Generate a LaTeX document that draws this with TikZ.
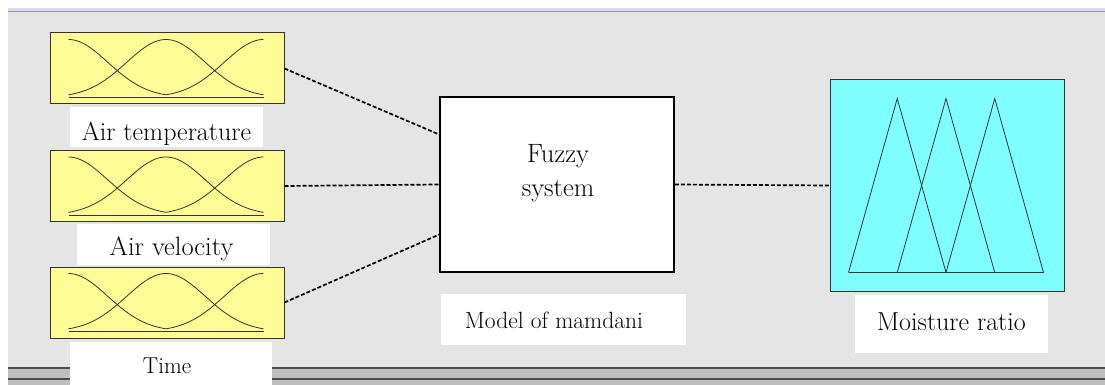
\documentclass[tikz,border=0pt]{standalone}
\definecolor{bggray}{RGB}{229,229,229}
\definecolor{bargray}{RGB}{190,190,190}
\definecolor{mfyellow}{RGB}{255,252,150}
\definecolor{mfcyan}{RGB}{128,255,255}
\tikzset{
  mfbox/.style={draw=black!80,fill=mfyellow,line width=1pt,inner sep=0pt,minimum width=234pt,minimum height=71pt},
  outbox/.style={draw=black!80,fill=mfcyan,line width=1pt,inner sep=0pt,minimum width=234pt,minimum height=211pt},
  fisbox/.style={draw=black,fill=white,line width=1.5pt,inner sep=0pt,minimum width=234pt,minimum height=175pt},
  tag/.style={fill=white,inner sep=0pt,text depth=0pt},
  link/.style={draw=black,line width=1.7pt,dash pattern=on 4pt off 2pt},
  mf/.style={draw=black!80,line width=0.8pt}
}

\begin{document}
\begin{tikzpicture}[x=1pt,y=-1pt]
  \useasboundingbox (0,0) rectangle (1105,385);
  % window
  \fill[bggray] (8,12) rectangle (1105,367);
  \fill[blue!10!gray!25] (8,8) rectangle (1105,11);
  \draw[blue!25!gray!70,line width=1pt] (8,12) -- (1105,12);
  \fill[bargray] (8,367) rectangle (1105,385);
  \draw[black!70,line width=2pt] (8,368) -- (1105,368);
  \draw[black!70,line width=2pt] (8,379) -- (1105,379);

  % labels
  \node[tag,minimum width=193pt,minimum height=40pt,text height=26pt] (templabel) at (166.5,127)
    {\fontsize{26}{30}\selectfont Air temperature};
  \node[tag,minimum width=193pt,minimum height=41pt,text height=21pt] (velolabel) at (173.5,244.5)
    {\fontsize{26.5}{30}\selectfont Air velocity\hspace*{4pt}};
  \node[tag,minimum width=202pt,minimum height=43pt,text height=19pt] (timelabel) at (171,363.5)
    {\fontsize{23}{28}\selectfont Time\hspace*{8pt}};
  \node[tag,minimum width=245pt,minimum height=51pt,text height=17pt] (modellabel) at (563.5,319.5)
    {\fontsize{23.5}{28}\selectfont Model of mamdani\hspace*{19pt}};
  \node[tag,minimum width=193pt,minimum height=58pt,text height=12pt] (moistlabel) at (951.5,324)
    {\fontsize{26}{30}\selectfont Moisture ratio};

  % inputs, system, output
  \node[mfbox]  (temp)  at (167,68.5) {};
  \node[mfbox]  (velo)  at (167,186)  {};
  \node[mfbox]  (time)  at (167,302.5) {};
  \node[fisbox] (fuzzy) at (557,184.5) {};
  \node[align=center,font=\fontsize{26.5}{34}\selectfont] (fuzzytext) at (558,173) {Fuzzy\\system};
  \node[outbox] (moist) at (947,185.5) {};

  \foreach \mf in {temp,velo,time} {
    \begin{scope}[shift={(\mf.south west)},shift={(19,-7)},x=48.75pt,y=58pt]
      \draw[mf] plot[domain=0:2,samples=40,smooth] (\x,{exp(-\x*\x/1.3)});
      \draw[mf] plot[domain=0:4,samples=60,smooth] (\x,{exp(-(\x-2)*(\x-2)/1.3)});
      \draw[mf] plot[domain=2:4,samples=40,smooth] (\x,{exp(-(\x-4)*(\x-4)/1.3)});
      \draw[mf] (0,0) -- (4,0);
    \end{scope}
  }

  \begin{scope}[shift={(moist.south west)},shift={(19,-19)},x=48.75pt,y=174pt]
    \draw[mf] (0,0) -- (1,1) -- (2,0);
    \draw[mf] (1,0) -- (2,1) -- (3,0);
    \draw[mf] (2,0) -- (3,1) -- (4,0);
    \draw[mf] (0,0) -- (4,0);
  \end{scope}

  \path[link] (temp.east) edge (fuzzy.157);
  \path[link] (velo.east) edge (fuzzy.west);
  \path[link] (time.east) edge (fuzzy.203);
  \path[link] (fuzzy.east) edge (moist.west);
\end{tikzpicture}
\end{document}
